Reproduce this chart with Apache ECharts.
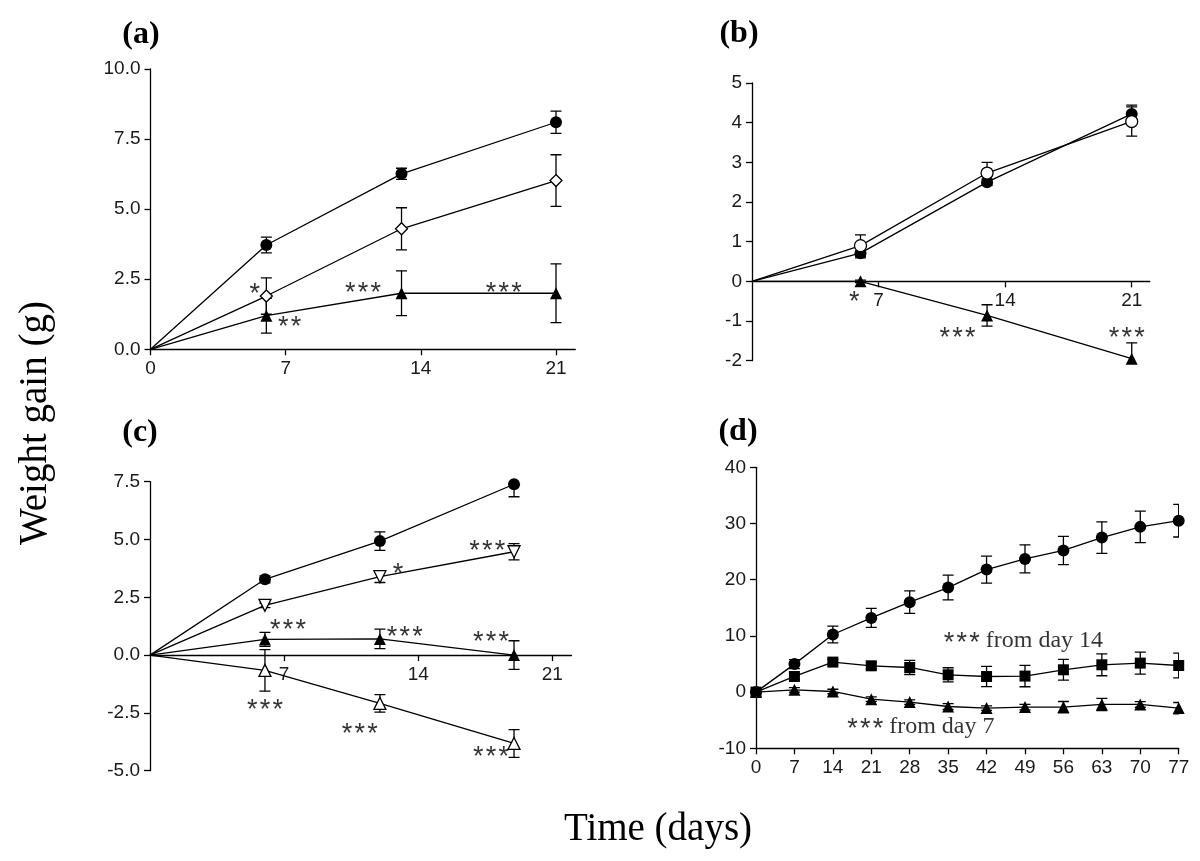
<!DOCTYPE html>
<html><head><meta charset="utf-8">
<script src="https://cdn.jsdelivr.net/npm/echarts@6/dist/echarts.min.js"></script>
<style>html,body{margin:0;padding:0;background:#fff}#c{width:1200px;height:861px}</style>
</head><body><div id="c"></div><script>
// ---------- Panel (a) ----------
const daysA = [0, 6, 13, 21];
const aCircle = [0, 3.72, 6.26, 8.10];
const aCircleErr = [0, 0.28, 0.20, 0.40];
const aDiamond = [0, 1.90, 4.30, 6.02];
const aDiamondErr = [0, 0.65, 0.75, 0.92];
const aTri = [0, 1.20, 2.00, 2.00];
const aTriErr = [0, 0.62, 0.80, 1.05];
const xTicksA = [0, 7, 14, 21];
const yRangeA = [0, 10, 2.5];
const annotA = [[5.4, 2.17, '*'], [7.2, 0.98, '**'], [11.0, 2.2, '***'], [18.3, 2.21, '***']];

// ---------- Panel (b) ----------
const daysB = [0, 6, 13, 21];
const bFilled = [0, 0.71, 2.50, 4.22];
const bFilledErr = [0, 0.12, 0.08, 0.22];
const bOpen = [0, 0.90, 2.73, 4.03];
const bOpenErr = [0, 0.27, 0.27, 0.37];
const bTri = [0, 0, -0.86, -1.95];
const bTriErr = [0, 0.03, 0.27, 0.40];
const xTicksB = [7, 14, 21];
const yRangeB = [-2, 5, 1];
const annotB = [[5.65, -0.38, '*'], [11.37, -1.30, '***'], [20.72, -1.30, '***']];

// ---------- Panel (c) ----------
const daysC = [0, 6, 12, 19];
const cCircle = [0, 3.28, 4.93, 7.39];
const cCircleErr = [0, 0.15, 0.40, 0.54];
const cInvTri = [0, 2.15, 3.39, 4.47];
const cInvTriErr = [0, 0.10, 0.25, 0.35];
const cTriF = [0, 0.68, 0.70, 0.00];
const cTriFErr = [0, 0.30, 0.42, 0.62];
const cTriO = [0, -0.66, -2.09, -3.82];
const cTriOErr = [0, 0.90, 0.38, 0.60];
const xTicksC = [7, 14, 21];
const yRangeC = [-5, 7.5, 2.5];
const annotC = [[7.2, 1.32, '***'], [12.95, 3.75, '*'], [17.6, 4.73, '***'], [13.3, 1.0, '***'],
                [17.8, 0.79, '***'], [6.0, -2.14, '***'], [10.95, -3.17, '***'], [17.8, -4.18, '***']];

// ---------- Panel (d) ----------
const daysD = [0, 7, 14, 21, 28, 35, 42, 49, 56, 63, 70, 77];
const dCircle = [0, 4.98, 10.25, 13.2, 16.0, 18.6, 21.8, 23.7, 25.2, 27.5, 29.4, 30.5];
const dCircleErr = [0, 0.8, 1.5, 1.7, 2.0, 2.2, 2.4, 2.5, 2.5, 2.8, 2.8, 2.9];
const dSquare = [0, 2.78, 5.34, 4.68, 4.38, 3.08, 2.78, 2.85, 3.97, 4.86, 5.16, 4.73];
const dSquareErr = [0, 0.5, 0.5, 0.6, 1.25, 1.25, 1.8, 1.9, 1.85, 1.95, 1.95, 2.2];
const dTri = [0, 0.41, 0.11, -1.25, -1.78, -2.56, -2.85, -2.67, -2.67, -2.2, -2.2, -2.85];
const dTriErr = [0, 0.4, 0.4, 0.4, 0.4, 0.5, 0.4, 0.5, 1.0, 1.1, 0.5, 1.0];
const xTicksD = [0, 7, 14, 21, 28, 35, 42, 49, 56, 63, 70, 77];
const yRangeD = [-10, 40, 10];
const annotD = [[34.2, 9.2, '***', ' from day 14'], [16.6, -6.2, '***', ' from day 7']];

const panelLabels = ['(a)', '(b)', '(c)', '(d)'];

// ---------- helpers ----------
const SANS = '"Liberation Sans", Arial, sans-serif';
const SERIF = '"Liberation Serif", "Times New Roman", serif';
const HS = '\u200A';

const grids = [
  {left: 150.5, top: 69, width: 424.8, height: 280.3},
  {left: 752, top: 83, width: 397.8, height: 277.7},
  {left: 150, top: 481.7, width: 421.5, height: 289},
  {left: 756, top: 467.3, width: 422.7, height: 281}
].map(g => Object.assign({containLabel: false, outerBoundsMode: 'none', show: false}, g));

// x axis placed at the value 0 of the y range (derived from the range, not typed)
function xAxisDef(idx, max, interval, ticks, yRange, atZero) {
  const off = atZero ? -grids[idx].height * (0 - yRange[0]) / (yRange[1] - yRange[0]) : 0;
  return {
    type: 'value', gridIndex: idx, min: 0, max: max, interval: interval, offset: off,
    axisLine: {show: true, onZero: false, lineStyle: {color: '#000', width: 1.3}},
    axisTick: {show: true, inside: false, length: 6, lineStyle: {color: '#000', width: 1.3}, customValues: ticks},
    axisLabel: {show: true, margin: 10, color: '#1a1a1a', fontFamily: SANS, fontSize: 19, customValues: ticks},
    splitLine: {show: false}
  };
}
function yAxisDef(idx, range, decimals) {
  return {
    type: 'value', gridIndex: idx, min: range[0], max: range[1], interval: range[2],
    axisLine: {show: true, onZero: false, lineStyle: {color: '#000', width: 1.3}},
    axisTick: {show: true, inside: false, length: 6, lineStyle: {color: '#000', width: 1.3}},
    axisLabel: {show: true, margin: 10, color: '#1a1a1a', fontFamily: SANS, fontSize: 19,
                formatter: v => Number(v).toFixed(decimals)},
    splitLine: {show: false}
  };
}
function lineSeries(idx, days, vals, sym, filled, size, rotate, hideFirst) {
  return {
    type: 'line', xAxisIndex: idx, yAxisIndex: idx, z: 3,
    data: days.map((d, i) => (hideFirst && i === 0) ? {value: [d, vals[i]], symbol: 'none'} : [d, vals[i]]),
    symbol: sym, symbolSize: size, symbolRotate: rotate || 0, showSymbol: true,
    lineStyle: {color: '#000', width: 1.3},
    itemStyle: {color: filled ? '#000' : '#fff', borderColor: '#000', borderWidth: filled ? 0 : 1.3, opacity: 1},
    emphasis: {disabled: true}, silent: true
  };
}
function errRender(params, api) {
  const x = api.value(0), y = api.value(1), e = api.value(2);
  if (!e) return null;
  const top = api.coord([x, y + e]);
  const bot = api.coord([x, y - e]);
  const w = 5.5;
  const style = {stroke: '#000', lineWidth: 1.3, fill: null};
  return {type: 'group', children: [
    {type: 'line', shape: {x1: top[0], y1: top[1], x2: bot[0], y2: bot[1]}, style: style},
    {type: 'line', shape: {x1: top[0] - w, y1: top[1], x2: top[0] + w, y2: top[1]}, style: style},
    {type: 'line', shape: {x1: bot[0] - w, y1: bot[1], x2: bot[0] + w, y2: bot[1]}, style: style}
  ]};
}
function errSeries(idx, days, vals, errs) {
  return {
    type: 'custom', xAxisIndex: idx, yAxisIndex: idx, z: 1, silent: true, clip: true,
    renderItem: errRender, encode: {x: 0, y: 1},
    data: days.map((d, i) => [d, vals[i], errs[i]])
  };
}
function spaced(s) { return s.split('').join(HS); }
function annotSeries(idx, list) {
  return {
    type: 'scatter', xAxisIndex: idx, yAxisIndex: idx, symbolSize: 1, z: 5, silent: true,
    itemStyle: {color: 'rgba(0,0,0,0)'},
    data: list.map(a => ({value: [a[0], a[1]], label: {formatter: spaced(a[2])}})),
    label: {show: true, position: 'inside', align: 'center', verticalAlign: 'middle', offset: [0, 6],
            fontFamily: SANS, fontSize: 27, color: '#000'}
  };
}
function annotTextSeries(idx, list) {
  return {
    type: 'scatter', xAxisIndex: idx, yAxisIndex: idx, symbolSize: 1, z: 5, silent: true,
    itemStyle: {color: 'rgba(0,0,0,0)'},
    data: list.map(a => ({value: [a[0], a[1]], label: {formatter: '{s|' + spaced(a[2]) + '}{t|' + a[3] + '}'}})),
    label: {show: true, position: 'inside', align: 'left', verticalAlign: 'middle',
            rich: {s: {fontFamily: SANS, fontSize: 27, color: '#000', padding: [6, 0, 0, 0]},
                   t: {fontFamily: SERIF, fontSize: 24, color: '#000'}}}
  };
}

const series = [
  // (a)
  errSeries(0, daysA, aCircle, aCircleErr),
  errSeries(0, daysA, aDiamond, aDiamondErr),
  errSeries(0, daysA, aTri, aTriErr),
  lineSeries(0, daysA, aTri, 'triangle', true, 12, 0, true),
  lineSeries(0, daysA, aDiamond, 'diamond', false, 12, 0, true),
  lineSeries(0, daysA, aCircle, 'circle', true, 12, 0, true),
  annotSeries(0, annotA),
  // (b)
  errSeries(1, daysB, bFilled, bFilledErr),
  errSeries(1, daysB, bOpen, bOpenErr),
  errSeries(1, daysB, bTri, bTriErr),
  lineSeries(1, daysB, bTri, 'triangle', true, 12, 0, true),
  lineSeries(1, daysB, bFilled, 'circle', true, 12, 0, true),
  lineSeries(1, daysB, bOpen, 'circle', false, 12, 0, true),
  annotSeries(1, annotB),
  // (c)
  errSeries(2, daysC, cCircle, cCircleErr),
  errSeries(2, daysC, cInvTri, cInvTriErr),
  errSeries(2, daysC, cTriF, cTriFErr),
  errSeries(2, daysC, cTriO, cTriOErr),
  lineSeries(2, daysC, cCircle, 'circle', true, 12, 0, true),
  lineSeries(2, daysC, cInvTri, 'triangle', false, 12, 180, true),
  lineSeries(2, daysC, cTriF, 'triangle', true, 12, 0, true),
  lineSeries(2, daysC, cTriO, 'triangle', false, 12, 0, true),
  annotSeries(2, annotC),
  // (d)
  errSeries(3, daysD, dCircle, dCircleErr),
  errSeries(3, daysD, dSquare, dSquareErr),
  errSeries(3, daysD, dTri, dTriErr),
  lineSeries(3, daysD, dCircle, 'circle', true, 12, 0, false),
  lineSeries(3, daysD, dTri, 'triangle', true, 12, 0, false),
  lineSeries(3, daysD, dSquare, 'rect', true, 11, 0, false),
  annotTextSeries(3, annotD)
];

const labelPos = [[141, 35], [739, 34], [140, 433], [738, 432]];
const graphics = panelLabels.map((t, i) => ({
  type: 'text', x: labelPos[i][0], y: labelPos[i][1], silent: true,
  style: {text: t, fontFamily: SERIF, fontSize: 32, fontWeight: 'bold', fill: '#000', align: 'center', verticalAlign: 'middle'}
}));
graphics.push({
  type: 'text', x: 36, y: 423, rotation: Math.PI / 2, silent: true,
  style: {text: 'Weight gain (g)', fontFamily: SERIF, fontSize: 39, fill: '#000', align: 'center', verticalAlign: 'middle'}
});
graphics.push({
  type: 'text', x: 658, y: 830, silent: true,
  style: {text: 'Time (days)', fontFamily: SERIF, fontSize: 39, fill: '#000', align: 'center', verticalAlign: 'middle'}
});

const chart = echarts.init(document.getElementById('c'), null, {renderer: 'canvas'});
chart.setOption({
  animation: false,
  backgroundColor: '#fff',
  grid: grids,
  xAxis: [xAxisDef(0, 22, 7, xTicksA, yRangeA, false), xAxisDef(1, 22, 7, xTicksB, yRangeB, true),
          xAxisDef(2, 22, 7, xTicksC, yRangeC, true), xAxisDef(3, 77, 7, xTicksD, yRangeD, false)],
  yAxis: [yAxisDef(0, yRangeA, 1), yAxisDef(1, yRangeB, 0), yAxisDef(2, yRangeC, 1), yAxisDef(3, yRangeD, 0)],
  series: series,
  graphic: graphics
});
</script></body></html>
